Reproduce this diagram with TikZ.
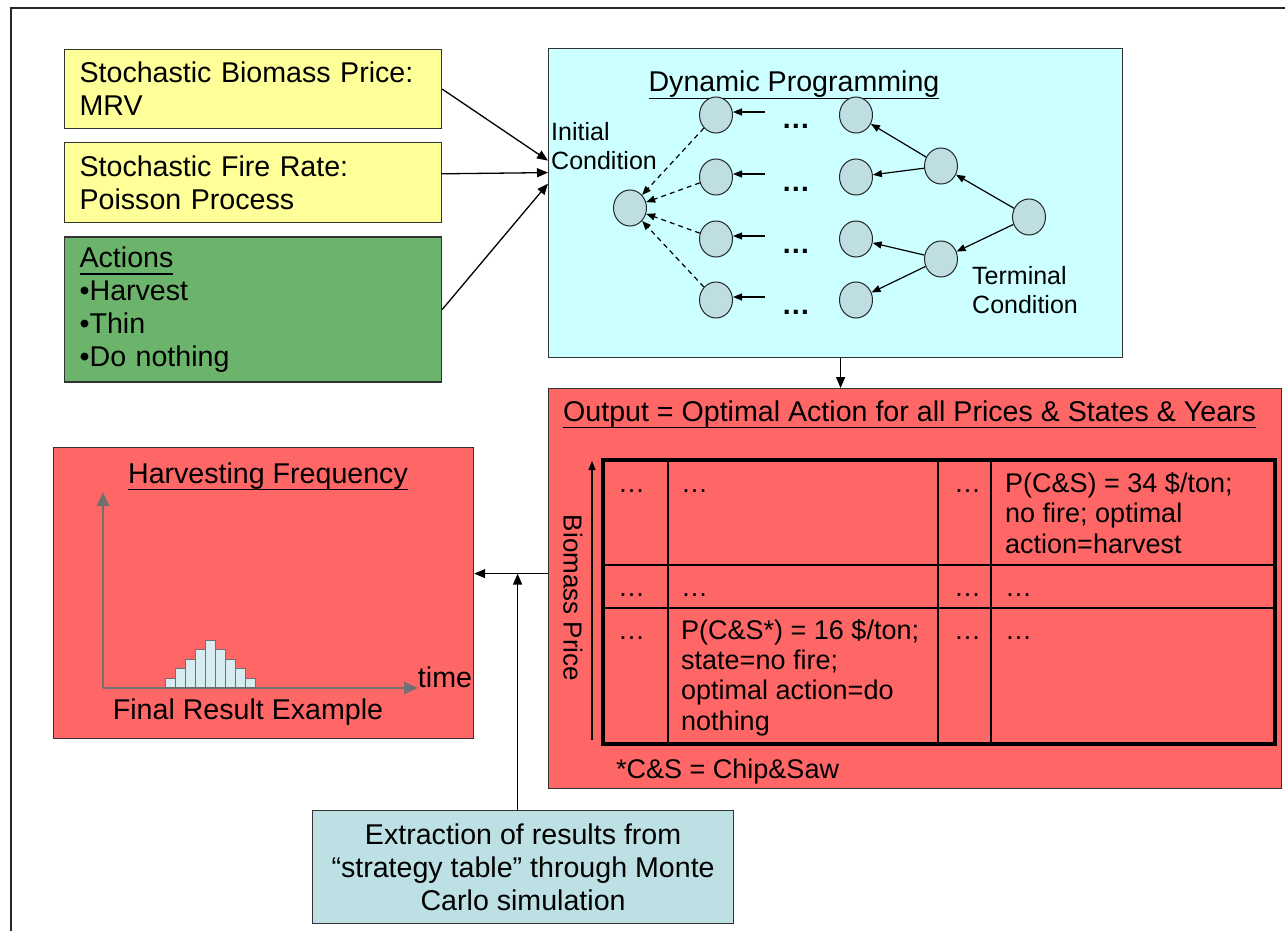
\documentclass[tikz,border=0pt]{standalone}
\usepackage{fontspec}
\setmainfont{Liberation Sans}
\usetikzlibrary{calc}
\usetikzlibrary{positioning}
\usetikzlibrary{arrows.meta}
\usetikzlibrary{shapes.geometric}

\definecolor{boxyellow}{RGB}{255,255,153}
\definecolor{actgreen}{RGB}{108,180,108}
\definecolor{dpcyan}{RGB}{204,255,255}
\definecolor{outred}{RGB}{255,102,102}
\definecolor{extblue}{RGB}{189,224,228}
\definecolor{stategray}{RGB}{190,222,226}
\definecolor{axisgray}{RGB}{112,112,112}
\definecolor{barblue}{RGB}{214,236,240}

\newcommand{\bigfont}{\fontsize{28.6}{33}\selectfont}
\newcommand{\cellfont}{\fontsize{27}{30.3}\selectfont}
\newcommand{\smallfont}{\fontsize{25}{29}\selectfont}
\newcommand{\ultext}[1]{\leavevmode\setbox0=\hbox{#1}%
  \rlap{\vrule width \wd0 height -0.2em depth 0.26em}\box0}

\begin{document}
\begin{tikzpicture}[%
  x=1pt, y=-1pt,
  >={Triangle[length=11pt,width=9pt]},
  box/.style={draw=black!80, line width=1.2pt, font=\bigfont},
  leftbox/.style={box, anchor=north west, align=left, text width=#1,
    inner xsep=15pt, inner ysep=0pt},
  flow/.style={->, line width=1.3pt},
  state/.style={ellipse, draw=black!85, line width=1pt, fill=stategray,
    minimum width=33pt, minimum height=36pt, inner sep=0pt},
  dparrow/.style={-{Triangle[length=9pt,width=7pt]}, line width=1.2pt},
  lbl/.style={inner sep=0pt},
  cell/.style={anchor=base west, inner sep=0pt, font=\cellfont, align=left},
  axisarrow/.style={-{Triangle[length=14pt,width=12pt]}, draw=axisgray,
    line width=2.6pt},
  bar/.style={draw=axisgray, fill=barblue, line width=1pt},
]

  \useasboundingbox (0,0) rectangle (1285,931);
  \draw[line width=2pt, black!85] (11,8) rectangle (1300,950);

  % input boxes
  \node[leftbox=347pt, fill=boxyellow, minimum height=79pt] (price) at (64,49)
    {Stochastic Biomass Price:\\MRV};
  \node[leftbox=347pt, fill=boxyellow, minimum height=80pt,
    below=13pt of price.south west, anchor=north west] (fire)
    {Stochastic Fire Rate:\\Poisson Process};
  \node[leftbox=347pt, fill=actgreen, minimum height=145pt,
    below=13pt of fire.south west, anchor=north west] (act)
    {\ultext{Actions}\\•Harvest\\•Thin\\•Do nothing};

  % main boxes
  \node[box, fill=dpcyan, minimum width=574pt, minimum height=309pt,
    anchor=north west] (dp) at (548,48) {};
  \node[box, fill=outred, minimum width=733pt, minimum height=400pt,
    anchor=north west] (out) at (548,388) {};
  \node[box, fill=outred, minimum width=420pt, minimum height=291pt,
    anchor=north west] (hf) at (53,447) {};
  \node[box, fill=extblue, minimum width=421pt, minimum height=113pt,
    align=center, anchor=north west] (ext) at (312,810)
    {Extraction of results from\\“strategy table” through Monte\\Carlo simulation};

  % dynamic programming
  \node[lbl, anchor=base, font=\bigfont] (dptitle) at (794,92)
    {\ultext{Dynamic Programming}};
  \node[lbl, anchor=west, font=\smallfont, align=left] (initlbl) at (551,146)
    {Initial\\Condition};
  \node[lbl, anchor=west, font=\smallfont, align=left] (termlbl) at (972,290)
    {Terminal\\Condition};

  \node[state] (init) at (630,208) {};
  \foreach \y [count=\i] in {115,177,239,300} {
    \node[state] (a\i) at (716,\y) {};
    \node[state] (b\i) at (856,\y) {};
    \node[lbl, anchor=base, font=\bigfont\bfseries] (dots\i) at (796,\y+14) {…};
    \coordinate (s\i) at (765,\y-3);
    \draw[dparrow] (s\i) -- (s\i -| a\i.east);
    \draw[dparrow, dash pattern=on 5pt off 4pt] (a\i) -- (init);
  }
  \node[state] (c1) at (941,166) {};
  \node[state] (c2) at (941,259) {};
  \node[state] (term) at (1029,217) {};

  \draw[dparrow] (c1) -- (b1);
  \draw[dparrow] (c1) -- (b2);
  \draw[dparrow] (c2) -- (b3);
  \draw[dparrow] (c2) -- (b4);
  \draw[dparrow] (term) -- (c1);
  \draw[dparrow] (term) -- (c2);

  % output table
  \node[lbl, anchor=base west, font=\bigfont] (outtitle) at (563,421)
    {\ultext{Output = Optimal Action for all Prices \& States \& Years}};
  \draw[line width=3.3pt] (603,460) rectangle (1275,744);
  \foreach \x in {668,938,991}
    \draw[line width=2pt] (\x,460) -- (\x,744);
  \foreach \y in {565,608}
    \draw[line width=2pt] (603,\y) -- (1275,\y);

  \foreach \y in {492,596,639} {
    \node[cell] at (618,\y) {…};
    \node[cell] at (954,\y) {…};
  }
  \node[cell] (r1b) at (681,492) {…};
  \node[cell] (r2b) at (681,596) {…};
  \node[cell] (r2d) at (1005,596) {…};
  \node[cell] (r3d) at (1005,639) {…};
  % multi-line cells: base is the last line
  \node[cell] (r1d) at (1005,553)
    {P(C\&S) = 34 \$/ton;\\no fire; optimal\\action=harvest};
  \node[cell] (r3b) at (681,730)
    {P(C\&S*) = 16 \$/ton;\\state=no fire;\\optimal action=do\\nothing};
  \node[cell] (note) at (616,778) {*C\&S = Chip\&Saw};

  \coordinate (pbot) at (592,740);
  \coordinate (ptop) at (592,461);
  \draw[dparrow] (pbot) -- (ptop);
  \node[lbl, rotate=-90, font=\fontsize{26}{30}\selectfont] (pricelbl) at (573,598)
    {Biomass Price};

  % harvesting frequency
  \node[lbl, anchor=base, font=\bigfont] (hftitle) at (268,483)
    {\ultext{Harvesting Frequency}};
  \foreach \h [count=\i from 0] in {1,2,3,4,5,4,3,2,1}
    \draw[bar] (165+10*\i,688) rectangle ++(10,-9.6*\h);
  \coordinate (origin) at (103,688);
  \coordinate (ytop) at (103,492);
  \coordinate (xend) at (418,688);
  \draw[axisarrow] (origin) -- (ytop);
  \draw[axisarrow] (origin) -- (xend);
  \node[lbl, font=\bigfont] (timelbl) at (445,677) {time};
  \node[lbl, font=\bigfont] (hfnote) at (248,712) {Final Result Example};

  % connectors
  \draw[flow] (price.east) -- ([yshift=42.5pt]dp.west);
  \draw[flow] ([yshift=9pt]fire.east) -- ([yshift=30.5pt]dp.west);
  \draw[flow] (act.east) -- ([yshift=19.5pt]dp.west);

  \coordinate (dpfoot) at ([xshift=5pt]dp.south);
  \draw[flow] (dpfoot) -- (dpfoot |- out.north);

  \coordinate (outjoin) at ([yshift=15pt]out.west);
  \draw[flow] (outjoin) -- (outjoin -| hf.east);
  \coordinate (extfoot) at ([xshift=-5.5pt]ext.north);
  \draw[flow] (extfoot) -- (extfoot |- outjoin);

\end{tikzpicture}
\end{document}
